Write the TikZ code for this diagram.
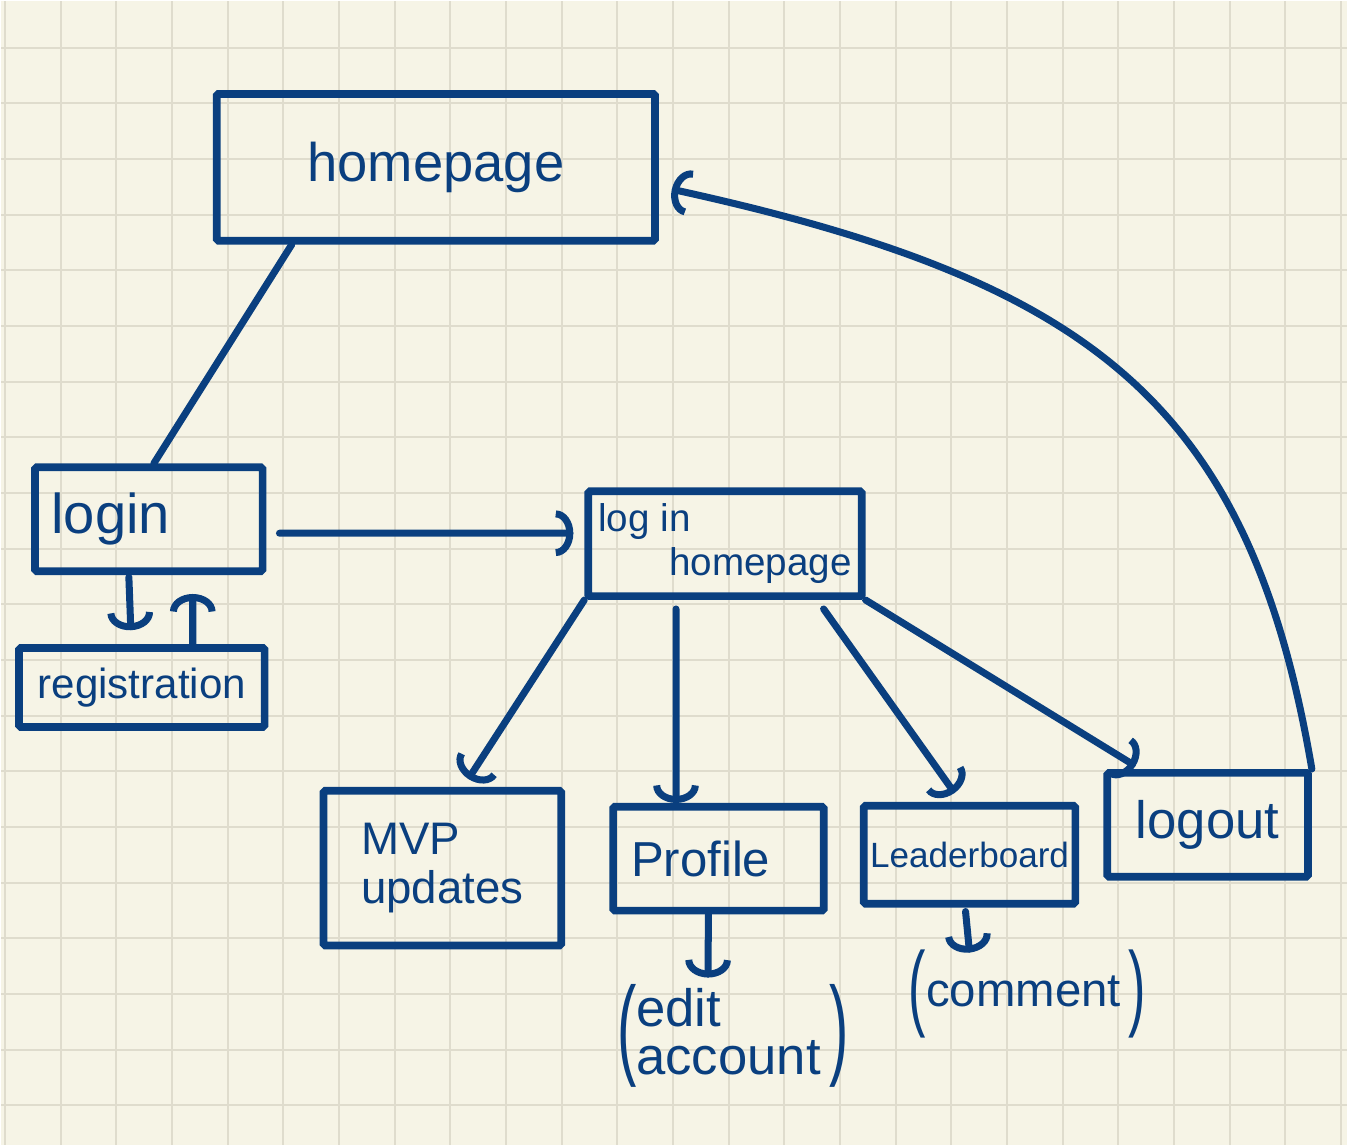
\documentclass[tikz,border=0pt]{standalone}
\usepackage{fontspec}
\setmainfont{Liberation Sans}
\usetikzlibrary{arrows.meta}
\definecolor{ink}{HTML}{0A3F7F}
\definecolor{paper}{HTML}{F6F4E6}
\definecolor{gridline}{HTML}{DFDCCD}
\newcommand{\tallparen}[3]{\raisebox{#2}{\scalebox{1.1}[#1]{#3}}}

\begin{document}
\begin{tikzpicture}[x=0.02cm,y=-0.02cm,
  inkline/.style={ink,line width=4pt,line cap=round,line join=round},
  box/.style={draw=ink,line width=4.4pt,rectangle,rounded corners=1pt,inner sep=0pt,text=ink,align=left},
  note/.style={text=ink,inner sep=0pt,align=left},
  >={Arc Barb[length=10pt,width=26pt]}]
  % paper and grid
  \fill[paper] (0,0) rectangle (1348,1146);
  \foreach \gx in {0,...,24} \draw[gridline,line width=1.2pt] (4+55.75*\gx,0) -- (4+55.75*\gx,1146);
  \foreach \gy in {0,...,19} \draw[gridline,line width=1.2pt] (0,46.7+55.75*\gy) -- (1348,46.7+55.75*\gy);
  \useasboundingbox (0,0) rectangle (1348,1146);

  \node[box,minimum width=8.78cm,minimum height=2.94cm,font=\fontsize{31}{34}\selectfont] (a) at (435.5,166.5) {homepage};
  \node[box,minimum width=4.56cm,minimum height=2.08cm,text width=3.9cm,font=\fontsize{32}{34}\selectfont] (b) at (148,519) {login};
  \node[box,minimum width=4.92cm,minimum height=1.58cm,font=\fontsize{24}{26}\selectfont] (c) at (141,687.5) {registration};
  \node[box,minimum width=5.48cm,minimum height=2.1cm,font=\fontsize{22}{25}\selectfont] (d) at (725,543.5) {log in\\\hspace*{1.42cm}homepage};

  \node[box,minimum width=4.76cm,minimum height=3.1cm,font=\fontsize{26}{28}\selectfont] (e) at (442,868.5) {MVP\\updates};
  \node[box,minimum width=4.22cm,minimum height=2.08cm,text width=3.5cm,font=\fontsize{28}{30}\selectfont] (f) at (718.5,859) {Profile};
  \node[box,minimum width=4.24cm,minimum height=1.96cm,font=\fontsize{20}{22}\selectfont] (g) at (970,855) {Leaderboard};
  \node[box,minimum width=4.02cm,minimum height=2.08cm,font=\fontsize{30}{32}\selectfont] (h) at (1208.5,825) {logout};

  \node[note,anchor=north,font=\fontsize{30}{26}\selectfont] (i) at (733,985) {\tallparen{2.1}{-0.32cm}{(}\begin{tabular}{@{}l@{}}edit\\account\end{tabular}\,\tallparen{2.1}{-0.32cm}{)}};
  \node[note,anchor=north,font=\fontsize{27}{28}\selectfont] (k) at (1028,950) {\tallparen{2.0}{-0.25cm}{(}comment\,\tallparen{2.0}{-0.25cm}{)}};

  \draw[inkline] ([xshift=1.58cm]a.south west) -- ([xshift=0.1cm]b.north);
  \draw[inkline,->] ([shift={(0.26cm,-0.28cm)}]b.east) -- ([shift={(-0.22cm,0.21cm)}]d.west);
  \draw[inkline,->] ([shift={(-0.4cm,-0.04cm)}]b.south) -- ([shift={(-0.22cm,0.28cm)}]c.north);
  \draw[inkline,->] ([xshift=1.02cm]c.north) -- ([shift={(0.88cm,-0.38cm)}]b.south);

  \draw[inkline,->] (d.south west) -- ([shift={(0.52cm,0.16cm)}]e.north);
  \draw[inkline,->] ([shift={(-0.98cm,-0.18cm)}]d.south) -- ([xshift=-0.85cm]f.north);
  \draw[inkline,->] ([shift={(-0.84cm,-0.18cm)}]d.south east) -- ([shift={(-0.3cm,0.18cm)}]g.north);
  \draw[inkline,->] (d.south east) -- ([shift={(0.64cm,0.06cm)}]h.north west);
  \draw[inkline,->] (h.north east) .. controls (1250,400) and (1090,280) .. ([shift={(0.26cm,-0.44cm)}]a.east);

  \draw[inkline,->] ([xshift=-0.2cm]f.south) -- ([shift={(-0.5cm,0.14cm)}]i.north);
  \draw[inkline,->] ([shift={(-0.08cm,-0.08cm)}]g.south) -- ([shift={(-1.16cm,-0.06cm)}]k.north);
\end{tikzpicture}
\end{document}
